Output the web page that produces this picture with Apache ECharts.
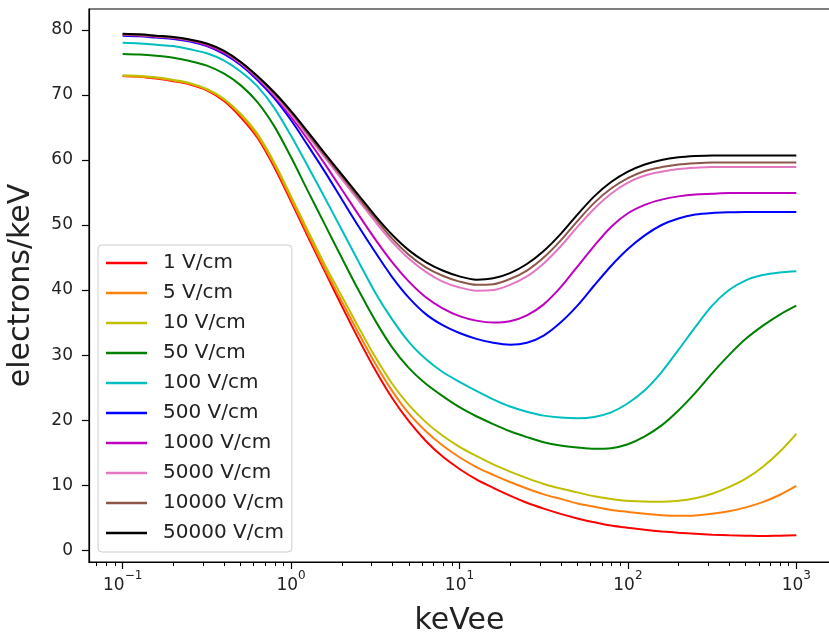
<!DOCTYPE html>
<html>
<head>
<meta charset="utf-8">
<script src="https://cdn.jsdelivr.net/npm/echarts@6/dist/echarts.min.js"></script>
<style>
html,body{margin:0;padding:0;background:#fff;}
#chart{width:829px;height:636px;}
</style>
</head>
<body>
<div id="chart"></div>
<script>
const energies = [0.1,0.126,0.158,0.2,0.251,0.316,0.398,0.501,0.631,0.794,1,1.259,1.585,1.995,2.512,3.162,3.981,5.012,6.31,7.943,10,12.59,15.85,19.95,25.12,31.62,39.81,50.12,63.1,79.43,100,125.9,158.5,199.5,251.2,316.2,398.1,501.2,631,794.3,1000];

const fieldNames = ['1 V/cm','5 V/cm','10 V/cm','50 V/cm','100 V/cm','500 V/cm','1000 V/cm','5000 V/cm','10000 V/cm','50000 V/cm'];
const fieldColors = ['#ff0000','#ff7f0e','#bfbf00','#008000','#00bfbf','#0000ff','#bf00bf','#e377c2','#8c564b','#000000'];

// electrons/keV for each drift field
const f1     = [72.9,72.8,72.5,72.1,71.6,70.7,69.1,66.6,63.4,58.9,53.6,48.2,42.9,37.6,32.5,27.7,23.4,19.8,16.8,14.4,12.5,10.9,9.6,8.4,7.3,6.4,5.6,4.9,4.3,3.8,3.45,3.15,2.9,2.7,2.55,2.4,2.3,2.25,2.2,2.25,2.3];
const f5     = [72.9,72.8,72.6,72.2,71.7,70.8,69.3,66.9,63.7,59.3,54.0,48.6,43.3,38.3,33.4,28.7,24.5,21.0,18.3,16.1,14.3,12.8,11.6,10.5,9.5,8.6,7.9,7.2,6.7,6.2,5.9,5.6,5.4,5.3,5.35,5.6,6.0,6.6,7.4,8.5,9.9];
const f10    = [73.0,72.9,72.7,72.3,71.8,70.9,69.4,67.1,64.0,59.6,54.4,49.1,43.9,39.1,34.3,29.7,25.6,22.3,19.7,17.6,15.9,14.5,13.2,12.1,11.1,10.2,9.5,8.9,8.3,7.9,7.6,7.5,7.45,7.6,8.0,8.7,9.7,11.0,12.8,15.1,17.9];
const f50    = [76.3,76.2,76.0,75.7,75.2,74.5,73.3,71.5,68.9,65.2,60.4,55.2,50.1,45.0,40.0,35.3,31.2,28.0,25.6,23.7,22.0,20.6,19.4,18.3,17.4,16.6,16.1,15.8,15.6,15.7,16.3,17.5,19.2,21.5,24.2,27.2,30.0,32.5,34.5,36.2,37.6];
const f100   = [78.0,77.9,77.7,77.5,77.0,76.4,75.3,73.6,71.3,68.0,63.7,59.0,54.2,49.3,44.4,39.6,35.5,32.0,29.4,27.4,25.9,24.5,23.2,22.1,21.3,20.7,20.4,20.3,20.5,21.2,22.6,24.6,27.4,30.8,34.3,37.6,40.0,41.5,42.3,42.7,42.9];
const f500   = [79.1,79.0,78.8,78.6,78.2,77.5,76.3,74.6,72.3,69.5,66.1,62.2,58.2,54.0,49.8,45.8,42.0,38.8,36.3,34.6,33.4,32.5,31.9,31.6,31.9,33.0,35.0,37.6,40.7,43.7,46.3,48.4,50.0,51.0,51.6,51.85,51.95,52.0,52.0,52.0,52.0];
const f1000  = [79.2,79.1,78.9,78.7,78.3,77.6,76.5,74.8,72.5,69.8,66.6,63.1,59.4,55.5,51.6,47.8,44.3,41.3,38.9,37.2,36.0,35.3,35.0,35.2,36.1,37.8,40.4,43.6,46.8,49.7,51.8,53.1,53.9,54.4,54.7,54.8,54.9,54.9,54.9,54.9,54.9];
const f5000  = [79.3,79.2,79.0,78.8,78.4,77.8,76.7,74.9,72.7,70.0,67.0,63.7,60.4,57.1,53.8,50.5,47.4,44.8,42.8,41.3,40.4,39.9,40.0,40.8,42.1,44.1,46.7,49.7,52.5,54.8,56.5,57.6,58.2,58.6,58.8,58.9,58.9,58.9,58.9,58.9,58.9];
const f10000 = [79.3,79.2,79.0,78.8,78.4,77.8,76.7,75.0,72.8,70.2,67.3,64.0,60.7,57.5,54.2,51.0,47.9,45.4,43.5,42.2,41.3,40.8,40.9,41.7,43.0,45.0,47.6,50.6,53.4,55.6,57.2,58.3,58.9,59.3,59.5,59.6,59.6,59.6,59.6,59.6,59.6];
const f50000 = [79.4,79.3,79.1,78.9,78.5,77.9,76.8,75.1,72.9,70.4,67.5,64.3,61.0,57.8,54.6,51.4,48.5,46.1,44.3,43.0,42.1,41.6,41.8,42.6,44.0,46.0,48.6,51.6,54.4,56.6,58.2,59.3,60.0,60.4,60.6,60.7,60.7,60.7,60.7,60.7,60.7];
const fieldValues = [f1,f5,f10,f50,f100,f500,f1000,f5000,f10000,f50000];

// Axis ticks
const xMajorTicks = [0.1,1,10,100,1000];
const xMinorTicks = [0.07,0.08,0.09,0.2,0.3,0.4,0.5,0.6,0.7,0.8,0.9,2,3,4,5,6,7,8,9,20,30,40,50,60,70,80,90,200,300,400,500,600,700,800,900];
const yTicks = [0,10,20,30,40,50,60,70,80];
const xMin = Math.pow(10,-1.2), xMax = Math.pow(10,3.2);
const yMin = -1.8, yMax = 83.2;

const FONT = 'DejaVu Sans';
const chart = echarts.init(document.getElementById('chart'), null, {renderer:'canvas'});

const series = fieldNames.map((name,i)=>({
  name: name,
  type: 'line',
  xAxisIndex: 0,
  data: energies.map((e,j)=>[e, fieldValues[i][j]]),
  symbol: 'none',
  smooth: 0.3,
  lineStyle: {color: fieldColors[i], width: 2},
  itemStyle: {color: fieldColors[i]},
  emphasis: {disabled: true},
  animation: false
}));

const supMap = {'-1':'−1','0':'0','1':'1','2':'2','3':'3'};

chart.setOption({
  animation: false,
  backgroundColor: '#fff',
  textStyle: {fontFamily: FONT},
  grid: {left: 89, top: 9, width: 741, height: 553, show: true, borderColor: '#000', borderWidth: 1.2, containLabel: false, outerBoundsMode: 'none'},
  legend: {
    data: fieldNames,
    orient: 'vertical',
    left: 98, top: 245,
    padding: [8, 8, 9, 8],
    itemGap: 10,
    itemWidth: 41,
    itemHeight: 2.5,
    icon: 'rect',
    backgroundColor: 'rgba(255,255,255,0.8)',
    borderColor: '#cccccc',
    borderWidth: 1,
    borderRadius: 4,
    textStyle: {fontFamily: FONT, fontSize: 20, color: '#222', lineHeight: 20, padding: [0,0,0,11]}
  },
  xAxis: [{
    type: 'log', logBase: 10, min: xMin, max: xMax, position: 'bottom',
    name: 'keVee', nameLocation: 'middle', nameGap: 44,
    nameTextStyle: {fontFamily: FONT, fontSize: 30, color: '#222'},
    axisLine: {show: true, onZero: false, lineStyle: {color: '#000', width: 1.2}},
    axisTick: {show: true, customValues: xMajorTicks, length: 7, lineStyle: {color: '#000', width: 1.2}},
    axisLabel: {
      show: true, customValues: xMajorTicks, margin: 8,
      formatter: function(v){ const e = Math.round(Math.log10(v)); return '{b|10}{s|' + supMap[String(e)] + '}'; },
      rich: {
        b: {fontFamily: FONT, fontSize: 17, color: '#222', verticalAlign: 'bottom', lineHeight: 24},
        s: {fontFamily: FONT, fontSize: 12, color: '#222', verticalAlign: 'top', lineHeight: 24}
      }
    },
    splitLine: {show: false}, minorTick: {show: false}
  }, {
    type: 'log', logBase: 10, min: xMin, max: xMax, position: 'bottom', gridIndex: 0,
    axisLine: {show: false, onZero: false},
    axisTick: {show: true, customValues: xMinorTicks, length: 4, lineStyle: {color: '#000', width: 1}},
    axisLabel: {show: false},
    splitLine: {show: false}
  }],
  yAxis: {
    type: 'value', min: yMin, max: yMax,
    name: 'electrons/keV', nameLocation: 'middle', nameGap: 53,
    nameTextStyle: {fontFamily: FONT, fontSize: 30, color: '#222'},
    axisLine: {show: true, onZero: false, lineStyle: {color: '#000', width: 1.2}},
    axisTick: {show: true, customValues: yTicks, length: 7, lineStyle: {color: '#000', width: 1.2}},
    axisLabel: {show: true, customValues: yTicks, margin: 16, fontFamily: FONT, fontSize: 17, color: '#222'},
    splitLine: {show: false}
  },
  series: series
});
</script>
</body>
</html>
